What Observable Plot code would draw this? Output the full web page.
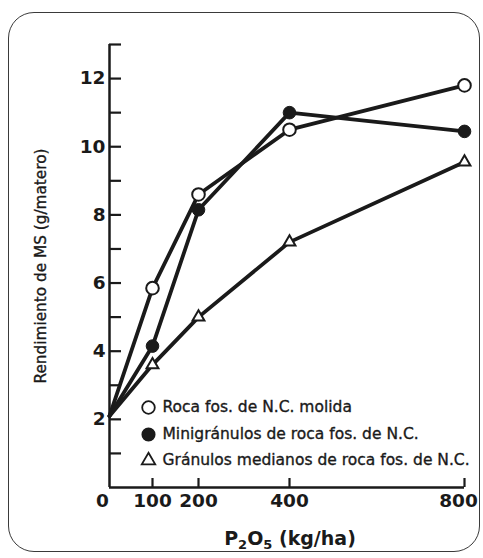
<!DOCTYPE html>
<html>
<head>
<meta charset="utf-8">
<script src="https://cdn.jsdelivr.net/npm/d3@7"></script>
<script src="https://cdn.jsdelivr.net/npm/@observablehq/plot@0.6"></script>
<style>
  html, body { margin: 0; padding: 0; background: #ffffff; }
  body { width: 483px; height: 558px; position: relative; overflow: hidden; font-family: "DejaVu Sans", sans-serif; }
  #frame { position: absolute; left: 8px; top: 12px; width: 472px; height: 540px; border: 1.6px solid #3a3a3a; border-radius: 26px; box-sizing: border-box; }
  #chart { position: absolute; left: 0; top: 0; }
  #xtitle { position: absolute; left: 190px; width: 200px; top: 528px; text-align: center; font: bold 19px "DejaVu Sans", sans-serif; line-height: 20px; color: #1a1a1a; }
  #xtitle sub { font-size: 13px; vertical-align: -4px; line-height: 0; }
</style>
</head>
<body>
<div id="frame"></div>
<div id="chart"></div>
<div id="xtitle">P<sub>2</sub>O<sub>5</sub> (kg/ha)</div>
<script>
// ---- data ----
const doses = [0, 100, 200, 400, 800];                 // P2O5 (kg/ha)
const rocaMolida = [2.1, 5.85, 8.6, 10.5, 11.8];       // open circles
const minigranulos = [2.1, 4.15, 8.15, 11.0, 10.45];   // filled circles
const granulosMedianos = [2.1, 3.6, 5.0, 7.2, 9.55];   // open triangles
const seriesNames = [
  "Roca fos. de N.C. molida",
  "Minigránulos de roca fos. de N.C.",
  "Gránulos medianos de roca fos. de N.C."
];
const xTickValues = [0, 100, 200, 400, 800];
const yTickValues = [1, 2, 3, 4, 5, 6, 7, 8, 9, 10, 11, 12, 13];
const yTickLabels = [2, 4, 6, 8, 10, 12];
const yDomain = [0, 13];
const yTitle = "Rendimiento de MS (g/matero)";

// ---- table ----
const seriesValues = [rocaMolida, minigranulos, granulosMedianos];
const rows = [];
seriesValues.forEach((vals, s) => vals.forEach((v, i) => rows.push({series: seriesNames[s], x: doses[i], y: v})));
const pts = s => rows.filter(d => d.series === seriesNames[s] && d.x > 0);

const ink = "#1a1a1a";
const font = "DejaVu Sans";
const textStyle = {fontFamily: font, fill: ink, stroke: ink, strokeWidth: 0.35};

const chart = Plot.plot({
  width: 483,
  height: 520,
  marginTop: 44,
  marginBottom: 33,
  marginLeft: 109,
  marginRight: 19,
  style: {background: "transparent", fontFamily: font, color: ink, overflow: "visible"},
  x: {type: "linear", domain: xTickValues, range: [109, 152, 198, 289, 464]},
  y: {domain: yDomain},
  marks: [
    // axis lines
    Plot.ruleX([0], {y1: yDomain[0], y2: yDomain[1], stroke: ink, strokeWidth: 2.5}),
    Plot.ruleY([0], {x1: xTickValues[0], x2: xTickValues[xTickValues.length - 1], stroke: ink, strokeWidth: 2.5}),
    // y axis: inward ticks, labels at even values
    Plot.axisY(yTickValues, {
      tickSize: -12, tickPadding: 16, strokeWidth: 2.2, color: ink,
      tickFormat: d => yTickLabels.includes(d) ? String(d) : "",
      fontSize: 18.5, fontWeight: "bold", fontFamily: font, label: null
    }),
    // x axis: inward ticks
    Plot.axisX(xTickValues.filter(d => d > 0), {
      tickSize: -9, tickPadding: 15, strokeWidth: 2.2, color: ink,
      tickFormat: d => d === 800 ? "" : String(d),
      fontSize: 18.5, fontWeight: "bold", fontFamily: font, label: null
    }),
    Plot.axisX([800], {tickSize: 0, tickPadding: 6, dx: -6, color: ink, fontSize: 18.5, fontWeight: "bold", fontFamily: font, label: null}),
    Plot.axisX([0], {tickSize: 0, tickPadding: 6, dx: -7, color: ink, fontSize: 18.5, fontWeight: "bold", fontFamily: font, label: null}),
    // y title
    Plot.text([yTitle], {text: d => d, frameAnchor: "left", rotate: -90, dx: -68, fontSize: 15.3, textAnchor: "middle", lineAnchor: "middle", ...textStyle}),
    // series lines
    Plot.line(rows, {x: "x", y: "y", z: "series", stroke: ink, strokeWidth: 3.8, strokeLinejoin: "round"}),
    // markers
    Plot.dot(pts(0), {x: "x", y: "y", r: 6.3, fill: "white", stroke: ink, strokeWidth: 2}),
    Plot.dot(pts(1), {x: "x", y: "y", r: 6.3, fill: ink, stroke: ink, strokeWidth: 1}),
    Plot.dot(pts(2), {x: "x", y: "y", symbol: "triangle", r: 4.4, fill: "white", stroke: ink, strokeWidth: 2}),
    // legend
    Plot.dot([seriesNames[0]], {frameAnchor: "bottom-left", dx: 39, dy: -80, r: 6.3, fill: "white", stroke: ink, strokeWidth: 1.8}),
    Plot.dot([seriesNames[1]], {frameAnchor: "bottom-left", dx: 39, dy: -53, r: 6.3, fill: ink, stroke: ink}),
    Plot.dot([seriesNames[2]], {frameAnchor: "bottom-left", dx: 39, dy: -27, symbol: "triangle", r: 5, fill: "white", stroke: ink, strokeWidth: 1.8}),
    Plot.text([seriesNames[0]], {text: d => d, frameAnchor: "bottom-left", dx: 53, dy: -80, textAnchor: "start", lineAnchor: "middle", fontSize: 15.5, ...textStyle}),
    Plot.text([seriesNames[1]], {text: d => d, frameAnchor: "bottom-left", dx: 53, dy: -53, textAnchor: "start", lineAnchor: "middle", fontSize: 15.5, ...textStyle}),
    Plot.text([seriesNames[2]], {text: d => d, frameAnchor: "bottom-left", dx: 53, dy: -27, textAnchor: "start", lineAnchor: "middle", fontSize: 15.5, ...textStyle})
  ]
});
document.getElementById("chart").appendChild(chart);
</script>
</body>
</html>
